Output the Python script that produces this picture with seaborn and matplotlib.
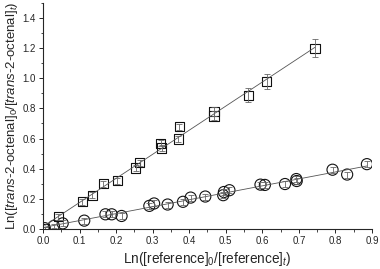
import numpy as np
import pandas as pd
import matplotlib
matplotlib.use("Agg")
import matplotlib.pyplot as plt
from matplotlib.ticker import MultipleLocator
import seaborn as sns

# trans-2-octenal vs reference, two series (squares / circles)
sq_x = [0.005, 0.042, 0.108, 0.135, 0.165, 0.203, 0.254, 0.265, 0.322, 0.325,
        0.370, 0.373, 0.468, 0.468, 0.562, 0.612, 0.744]
sq_y = [0.005, 0.081, 0.180, 0.224, 0.300, 0.320, 0.405, 0.440, 0.568, 0.537,
        0.597, 0.678, 0.780, 0.750, 0.888, 0.980, 1.200]
sq_err = [0.01, 0.02, 0.02, 0.02, 0.02, 0.02, 0.02, 0.02, 0.02, 0.02,
          0.02, 0.02, 0.03, 0.03, 0.045, 0.048, 0.06]

ci_x = [0.005, 0.030, 0.054, 0.113, 0.171, 0.188, 0.215, 0.291, 0.304, 0.341,
        0.383, 0.404, 0.444, 0.493, 0.495, 0.510, 0.595, 0.607, 0.662, 0.693,
        0.694, 0.792, 0.832, 0.886]
ci_y = [0.005, 0.020, 0.037, 0.055, 0.097, 0.097, 0.086, 0.153, 0.169, 0.162,
        0.180, 0.208, 0.215, 0.224, 0.245, 0.257, 0.294, 0.292, 0.298, 0.331,
        0.318, 0.393, 0.361, 0.430]
ci_err = [0.01, 0.015, 0.02, 0.02, 0.02, 0.02, 0.02, 0.02, 0.02, 0.02,
          0.02, 0.02, 0.02, 0.02, 0.02, 0.02, 0.02, 0.02, 0.02, 0.02,
          0.02, 0.02, 0.02, 0.02]

sq = pd.DataFrame({"x": sq_x, "y": sq_y})
ci = pd.DataFrame({"x": ci_x, "y": ci_y})

sns.set_style("ticks")
plt.rcParams["font.family"] = ["Liberation Sans", "DejaVu Sans"]
plt.rcParams["mathtext.fontset"] = "custom"
plt.rcParams["mathtext.rm"] = "Liberation Sans"
plt.rcParams["mathtext.it"] = "Liberation Sans:italic"

fig = plt.figure(figsize=(3.8, 2.69), dpi=100)
ax = fig.add_axes([0.113, 0.149, 0.866, 0.84])

line_kws = {"color": "#555555", "lw": 0.6}
sns.regplot(data=sq, x="x", y="y", scatter=False, ci=None, truncate=True,
            line_kws=line_kws, ax=ax)
sns.regplot(data=ci, x="x", y="y", scatter=False, ci=None, truncate=True,
            line_kws=line_kws, ax=ax)

ax.errorbar(sq_x, sq_y, yerr=sq_err, fmt="none", ecolor="#666666",
            elinewidth=0.6, capsize=2, capthick=0.6)
ax.errorbar(ci_x, ci_y, yerr=ci_err, fmt="none", ecolor="#666666",
            elinewidth=0.6, capsize=2, capthick=0.6)

sns.scatterplot(data=sq, x="x", y="y", marker="s", s=44, facecolors="none",
                edgecolor="#111111", linewidth=0.8, ax=ax)
sns.scatterplot(data=ci, x="x", y="y", marker="o", s=64, facecolors="none",
                edgecolor="#111111", linewidth=0.8, ax=ax)

ax.set_xlim(0, 0.9)
ax.set_ylim(0, 1.5)
ax.xaxis.set_major_locator(MultipleLocator(0.1))
ax.xaxis.set_minor_locator(MultipleLocator(0.05))
ax.yaxis.set_major_locator(MultipleLocator(0.2))
ax.yaxis.set_minor_locator(MultipleLocator(0.1))
ax.set_xticklabels([f"{v:.1f}" for v in ax.get_xticks()])
ax.set_yticklabels([f"{v:.1f}" for v in ax.get_yticks()])
ax.tick_params(which="major", length=3, width=0.7, labelsize=7, pad=2)
ax.tick_params(which="minor", length=1.8, width=0.6)
for s in ["left", "bottom"]:
    ax.spines[s].set_linewidth(0.8)
sns.despine(ax=ax)

ax.set_xlabel(r"Ln([reference]$_0$/[reference]$_t$)", fontsize=9.8, labelpad=3)
ax.set_ylabel(r"Ln([$\it{trans}$-2-octenal]$_0$/[$\it{trans}$-2-octenal]$_t$)",
              fontsize=9.5, labelpad=2)

fig.savefig("out.png", dpi=100)
